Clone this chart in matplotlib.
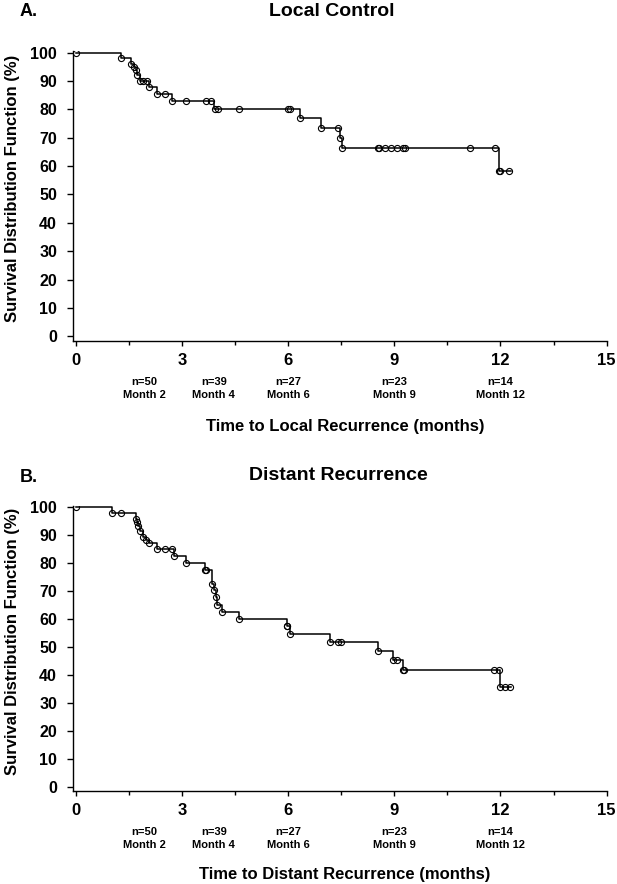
import numpy as np
import matplotlib
matplotlib.use('Agg')
import matplotlib.pyplot as plt
from matplotlib.transforms import blended_transform_factory
from matplotlib.ticker import MultipleLocator, FixedLocator

plt.rcParams['font.family'] = ['Liberation Sans', 'DejaVu Sans']
plt.rcParams['font.weight'] = 'bold'

W, H = 617, 884

# ---------------- Data ----------------
# Panel A: Local control (Kaplan-Meier steps)
a_step_t = [0, 1.28, 1.56, 1.65, 1.70, 1.74, 1.82, 2.06, 2.29, 2.73, 3.92,
            6.34, 6.93, 7.46, 7.52, 11.97]
a_step_s = [100, 98.2, 96.1, 94.9, 94.0, 92.2, 90.0, 87.9, 85.5, 82.9, 80.0,
            76.9, 73.4, 70.0, 66.5, 58.2]
a_end = 12.3
a_cens_t = [0, 1.28, 1.56, 1.65, 1.70, 1.74, 1.82, 1.91, 2.02, 2.06, 2.29, 2.53,
            2.73, 3.12, 3.67, 3.82, 3.93, 4.01, 4.60, 5.99, 6.05, 6.34, 6.93,
            7.42, 7.46, 7.52, 8.53, 8.57, 8.74, 8.91, 9.08, 9.25, 9.30, 11.14,
            11.85, 11.97, 12.00, 12.25]

# Panel B: Distant recurrence
b_step_t = [0, 1.03, 1.70, 1.72, 1.77, 1.82, 1.91, 1.99, 2.06, 2.29, 2.78, 3.12,
            3.65, 3.84, 3.91, 3.95, 4.00, 4.12, 4.60, 5.96, 6.05, 7.18, 8.55,
            8.97, 9.24, 11.99]
b_step_s = [100, 98.0, 96.0, 94.8, 93.2, 91.7, 89.6, 88.5, 87.3, 85.1, 82.5, 80.1,
            77.75, 72.75, 70.6, 68.0, 65.0, 62.5, 60.1, 57.6, 54.8, 51.8, 48.6,
            45.4, 41.8, 35.9]
b_end = 12.3
b_cens_t = [0, 1.03, 1.28, 1.70, 1.72, 1.77, 1.82, 1.91, 1.99, 2.06, 2.29, 2.53,
            2.73, 2.78, 3.12, 3.65, 3.67, 3.84, 3.91, 3.95, 4.00, 4.12, 4.60,
            5.96, 5.98, 6.05, 7.18, 7.42, 7.49, 8.55, 8.97, 9.07, 9.24, 9.28,
            11.83, 11.96, 11.99, 12.13, 12.27]

risk_pos = [1.95, 3.9, 6, 9, 12]
risk_n = ['n=50', 'n=39', 'n=27', 'n=23', 'n=14']
risk_month = ['Month 2', 'Month 4', 'Month 6', 'Month 9', 'Month 12']
xticks = [0, 3, 6, 9, 12, 15]
yticks = list(range(0, 101, 10))

fig = plt.figure(figsize=(W / 100, H / 100), dpi=100)


def fx(p):
    return p / W


def fy(p):
    return 1 - p / H


def panel(top, bottom, ylim, step_t, step_s, end_t, cens_t, xlabel,
          ylab_y, xlab_y, n_y, m_y):
    left, right = 73, 607
    ax = fig.add_axes([fx(left), fy(bottom), (right - left) / W, (bottom - top) / H])
    t = list(step_t) + [end_t]
    s = list(step_s) + [step_s[-1]]
    ax.step(t, s, where='post', color='black', lw=1.1)
    st = np.asarray(step_t)
    ss = np.asarray(step_s)
    ct = np.asarray(cens_t)
    idx = np.searchsorted(st, ct, side='right') - 1
    ax.plot(ct, ss[idx], 'o', mfc='none', mec='black', ms=4.4, mew=0.8)
    ax.set_xlim(-0.076, 15.01)
    ax.set_ylim(*ylim)
    ax.spines['top'].set_visible(False)
    ax.spines['right'].set_visible(False)
    for sp in ('left', 'bottom'):
        ax.spines[sp].set_linewidth(1.0)
    ax.xaxis.set_major_locator(FixedLocator(xticks))
    ax.xaxis.set_minor_locator(MultipleLocator(1.5))
    ax.yaxis.set_major_locator(FixedLocator(yticks))
    ax.tick_params(axis='y', direction='out', length=4.5, width=1, pad=7, labelsize=11.5)
    ax.tick_params(axis='x', which='major', direction='out', length=3.5, width=1, pad=5,
                   labelsize=12)
    ax.tick_params(axis='x', which='minor', direction='out', length=3, width=1)
    for lab in ax.get_xticklabels() + ax.get_yticklabels():
        lab.set_fontweight('bold')
    tr = blended_transform_factory(ax.transData, fig.transFigure)
    for xp, n, m in zip(risk_pos, risk_n, risk_month):
        ax.text(xp, fy(n_y), n, transform=tr, ha='center', va='center', fontsize=8,
                fontweight='bold')
        ax.text(xp, fy(m_y), m, transform=tr, ha='center', va='center', fontsize=8,
                fontweight='bold')
    fig.text(fx(345), fy(xlab_y), xlabel, ha='center', va='center', fontsize=12,
             fontweight='bold')
    fig.text(fx(12.5), fy(ylab_y), 'Survival Distribution Function (%)', rotation=90,
             ha='center', va='center', fontsize=12, fontweight='bold')
    return ax


panel(51.4, 341, (-1.7, 100.5), a_step_t, a_step_s, a_end, a_cens_t,
      'Time to Local Recurrence (months)', 188, 426, 382, 395)
panel(506, 791, (-1.3, 100.5), b_step_t, b_step_s, b_end, b_cens_t,
      'Time to Distant Recurrence (months)', 641, 874, 832, 845)

fig.text(fx(20), fy(12), 'A.', ha='left', va='center', fontsize=13, fontweight='bold')
fig.text(fx(332), fy(12), 'Local Control', ha='center', va='center', fontsize=14,
         fontweight='bold')
fig.text(fx(20), fy(477), 'B.', ha='left', va='center', fontsize=13, fontweight='bold')
fig.text(fx(338), fy(476), 'Distant Recurrence', ha='center', va='center', fontsize=14,
         fontweight='bold')

fig.savefig('out.png', dpi=100, facecolor='white')
